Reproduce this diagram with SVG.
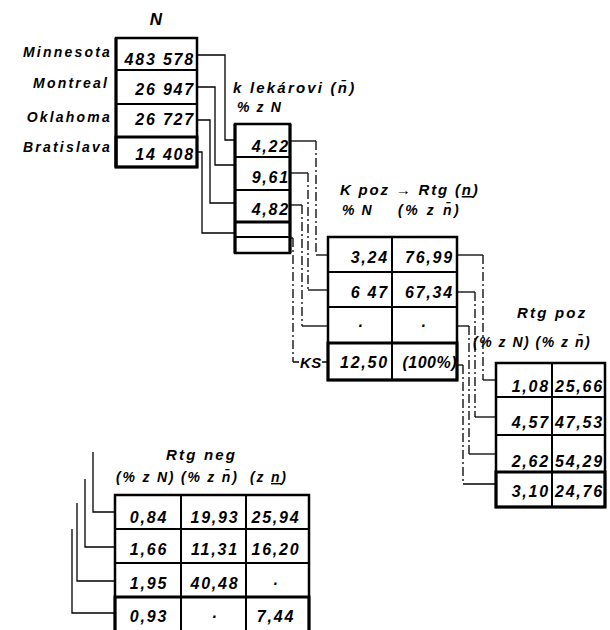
<svg xmlns="http://www.w3.org/2000/svg" width="610" height="630" viewBox="0 0 610 630">
<style>
text{font-family:"Liberation Sans",Arial,sans-serif;font-style:italic;font-weight:bold;fill:#000}
.v{font-size:16px;letter-spacing:1.8px;text-anchor:end}
.vc{font-size:16px;letter-spacing:1.8px;text-anchor:middle}
.lb{font-size:14px;letter-spacing:2.2px;text-anchor:end}
.h{font-size:15px;letter-spacing:2.2px}
.h2{font-size:14px;letter-spacing:1.6px}
.t{fill:#fff;stroke:#000;stroke-width:2.5}
.g{stroke:#000;stroke-width:2;fill:none}
.k{stroke:#000;stroke-width:3;fill:none}
.c{stroke:#000;stroke-width:1.3;fill:none}
.d{stroke:#000;stroke-width:1.3;fill:none;stroke-dasharray:9 3 2 3}
</style>
<rect width="610" height="630" fill="#fff"/>

<g id="connectors">
  <path class="c" d="M197,55 H225 V140 H235"/>
  <path class="c" d="M197,87 H215 V165 H235"/>
  <path class="c" d="M197,120 H210 V203 H235"/>
  <path class="c" d="M197,152 H202 V233 H235"/>

  <path class="c" d="M290,141 H316"/><path class="d" d="M316,141 V255"/><path class="c" d="M316,255 H328"/>
  <path class="c" d="M290,173 H308"/><path class="d" d="M308,173 V290"/><path class="c" d="M308,290 H328"/>
  <path class="c" d="M290,205 H302"/><path class="d" d="M302,205 V326"/><path class="c" d="M302,326 H328"/>
  <path class="c" d="M290,238 H293"/><path class="d" d="M293,238 V362"/><path class="c" d="M293,362 H299 M322,362 H328"/>

  <path class="c" d="M457,255 H483"/><path class="d" d="M483,255 V380"/><path class="c" d="M483,380 H496"/>
  <path class="c" d="M457,292 H475"/><path class="d" d="M475,292 V417"/><path class="c" d="M475,417 H496"/>
  <path class="c" d="M457,326 H469"/><path class="d" d="M469,326 V454"/><path class="c" d="M469,454 H496"/>
  <path class="c" d="M457,365 H463"/><path class="d" d="M463,365 V484"/><path class="c" d="M463,484 H496"/>

  <path class="c" d="M93,452 V512 H115"/>
  <path class="c" d="M85,479 V547 H115"/>
  <path class="c" d="M77,503 V581 H115"/>
  <path class="c" d="M72,529 V613 H115"/>
</g>

<g id="table-N">
  <text x="156" y="25" style="font-size:17px;text-anchor:middle">N</text>
  <text class="lb" x="112" y="57">Minnesota</text>
  <text class="lb" x="109" y="88">Montreal</text>
  <text class="lb" x="112" y="122">Oklahoma</text>
  <text class="lb" x="112" y="152">Bratislava</text>
  <rect class="t" x="116" y="38" width="81" height="129"/>
  <path class="g" d="M116,70 H197 M116,104 H197"/>
  <rect class="k" x="116" y="137" width="81" height="30"/>
  <path class="k" d="M116,38 V167"/>
  <text class="v" x="195" y="65">483 578</text>
  <text class="v" x="195" y="95">26 947</text>
  <text class="v" x="195" y="125">26 727</text>
  <text class="v" x="195" y="160">14 408</text>
</g>

<g id="table-lekar">
  <text class="h" x="233" y="93">k lekárovi (n̄)</text>
  <text class="h2" x="237" y="112">% z N</text>
  <rect class="t" x="235" y="124" width="55" height="129"/>
  <path class="g" d="M235,157 H290 M235,190 H290 M235,237 H290"/>
  <path class="k" d="M235,222 H290 M235,124 V253 M290,124 V253"/>
  <text class="v" x="290" y="152">4,22</text>
  <text class="v" x="290" y="183">9,61</text>
  <text class="v" x="290" y="215">4,82</text>
</g>

<g id="table-kpoz">
  <text class="h" x="340" y="195" style="letter-spacing:1.8px">K poz → Rtg (<tspan style="text-decoration:underline">n</tspan>)</text>
  <text class="h2" x="342" y="215">% N</text>
  <text class="h2" x="398" y="215" style="letter-spacing:2.6px">(% z n̄)</text>
  <rect class="t" x="328" y="237" width="129" height="143"/>
  <path class="g" d="M392,237 V380 M328,272 H457 M328,307 H457"/>
  <rect class="k" x="328" y="343" width="129" height="37"/>
  <text class="v" x="389" y="263">3,24</text>
  <text class="v" x="454" y="263">76,99</text>
  <text class="v" x="389" y="298">6 47</text>
  <text class="v" x="454" y="298">67,34</text>
  <text class="vc" x="361" y="331">·</text>
  <text class="vc" x="424" y="331">·</text>
  <text class="v" x="389" y="368">12,50</text>
  <text class="v" x="457" y="368" style="letter-spacing:0.5px">(100%)</text>
  <text x="300" y="368" style="font-size:15px;letter-spacing:0.5px">KS</text>
</g>

<g id="table-rtgpoz">
  <text class="h" x="517" y="318">Rtg poz</text>
  <text class="h2" x="473" y="347" style="letter-spacing:1.5px">(% z N) (% z n̄)</text>
  <rect class="t" x="496" y="363" width="109" height="144"/>
  <path class="g" d="M552,363 V507 M496,397 H605 M496,435 H605"/>
  <rect class="k" x="496" y="472" width="109" height="35"/>
  <text class="v" x="550" y="392">1,08</text>
  <text class="v" x="604" y="392">25,66</text>
  <text class="v" x="550" y="428">4,57</text>
  <text class="v" x="604" y="428">47,53</text>
  <text class="v" x="550" y="467">2,62</text>
  <text class="v" x="604" y="467">54,29</text>
  <text class="v" x="550" y="497">3,10</text>
  <text class="v" x="604" y="497">24,76</text>
</g>

<g id="table-rtgneg">
  <text class="h" x="166" y="460">Rtg neg</text>
  <text class="h2" x="116" y="482" style="letter-spacing:1.8px" xml:space="preserve">(% z N) (% z n̄)  (z <tspan style="text-decoration:underline">n</tspan>)</text>
  <rect class="t" x="115" y="495" width="194" height="140"/>
  <path class="g" d="M181,495 V630 M246,495 V630 M115,529 H309 M115,563 H309"/>
  <rect class="k" x="115" y="597" width="194" height="40"/>
  <text class="vc" x="149" y="523">0,84</text>
  <text class="vc" x="215" y="523">19,93</text>
  <text class="vc" x="276" y="523">25,94</text>
  <text class="vc" x="149" y="555">1,66</text>
  <text class="vc" x="215" y="555">11,31</text>
  <text class="vc" x="276" y="555">16,20</text>
  <text class="vc" x="149" y="589">1,95</text>
  <text class="vc" x="215" y="589">40,48</text>
  <text class="vc" x="276" y="589">·</text>
  <text class="vc" x="149" y="622">0,93</text>
  <text class="vc" x="215" y="622">·</text>
  <text class="vc" x="276" y="622">7,44</text>
</g>
</svg>
